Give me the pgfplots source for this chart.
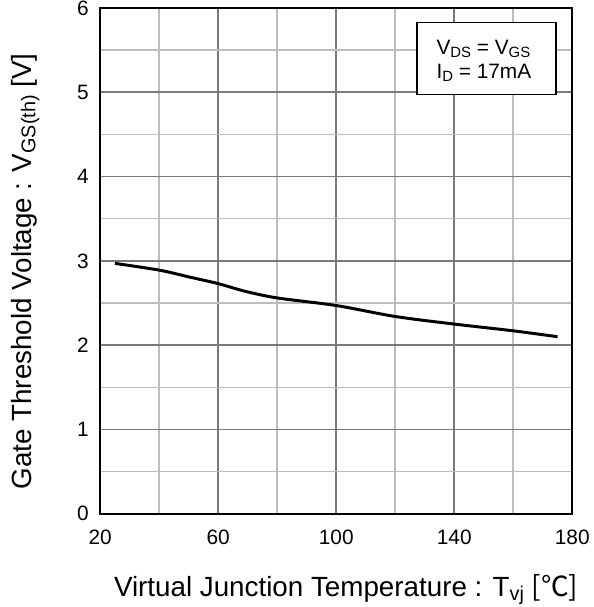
\documentclass[border=0pt]{standalone}
\usepackage{fontspec}
\setmainfont{Liberation Sans}
\newfontfamily\cjk{Noto Sans CJK JP}
\usepackage{pgfplots}
\pgfplotsset{compat=1.18}
% small lowered subscripts, as in the datasheet
\newcommand\sub[2][15]{\raisebox{-0.25ex}{\fontsize{#1}{#1}\selectfont #2}}
\definecolor{gmaj}{gray}{0.48}
\definecolor{gmin}{gray}{0.74}

\begin{document}
\begin{tikzpicture}
\begin{axis}[
    scale only axis,
    width=476pt, height=510pt,
    xmin=20, xmax=180, ymin=0, ymax=6,
    xtick={20,60,100,140,180},
    ytick={0,1,2,3,4,5,6},
    minor x tick num=1, minor y tick num=1,
    major tick length=0pt, minor tick length=0pt,
    grid=both,
    major grid style={gmaj, line width=1.6pt},
    minor grid style={gmin, line width=1.6pt},
    axis line style={black, line width=2pt},
    tick label style={font=\fontsize{21}{21}\selectfont},
    /pgf/number format/assume math mode=true,
    xticklabel style={yshift=-13pt},
    yticklabel style={xshift=-8pt},
    xlabel={Virtual Junction Temperature : T\sub[20]{vj} {\cjk[℃]}},
    ylabel={Gate Threshold Voltage : V\sub[20]{GS(th)} [V]},
    label style={font=\fontsize{28}{28}\selectfont},
    xlabel style={at={(axis description cs:0.521,-0.164)}, anchor=base},
    ylabel style={at={(axis description cs:-0.145,0.479)}, anchor=base},
]
\addplot[black, line width=3pt, smooth] coordinates {
    (25,2.97) (40,2.89) (50,2.81) (60,2.73) (69,2.64) (80,2.56)
    (100,2.47) (120,2.34) (140,2.25) (160,2.17) (175,2.10)
};
\node[draw=black, line width=1.2pt, fill=white, anchor=north west,
      minimum width=140pt, minimum height=73pt, inner sep=0pt]
      (box) at (axis cs:127.2,5.835) {};
\node[anchor=base west, font=\fontsize{21}{21}\selectfont, inner sep=0pt]
      at ([xshift=20pt, yshift=-33pt]box.north west) {V\sub{DS} = V\sub{GS}};
\node[anchor=base west, font=\fontsize{21}{21}\selectfont, inner sep=0pt]
      at ([xshift=20pt, yshift=-57pt]box.north west) {I\sub{D} = 17mA};
\end{axis}
\pgfresetboundingbox
\path (-101pt,-94pt) rectangle (497pt,518pt);
\end{tikzpicture}
\end{document}
